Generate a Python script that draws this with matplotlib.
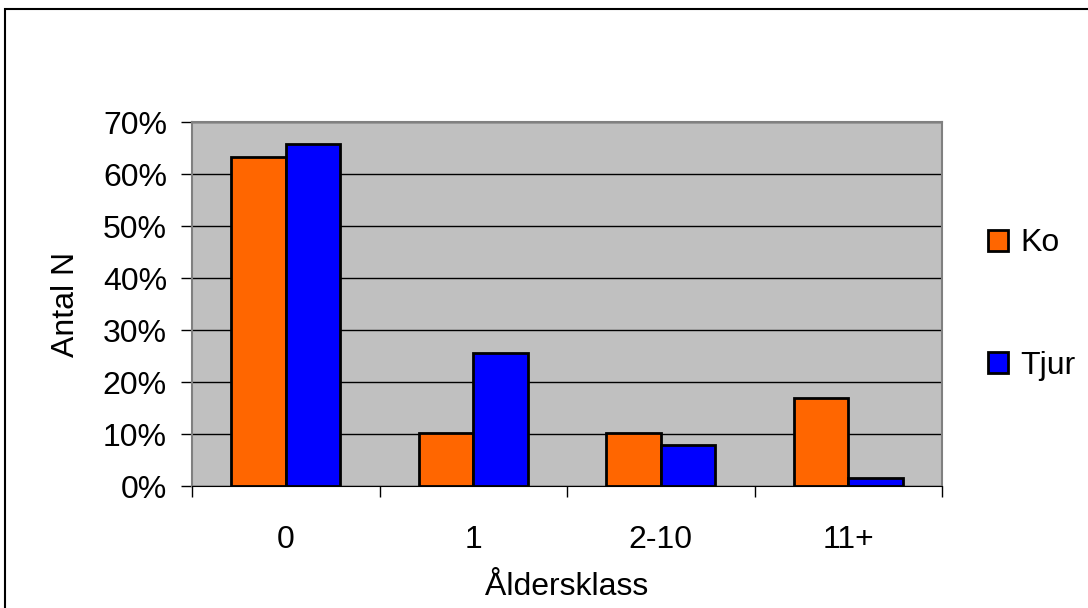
import matplotlib.pyplot as plt
import numpy as np
from matplotlib.patches import Rectangle
from matplotlib.ticker import FixedLocator, PercentFormatter

plt.rcParams['font.family'] = ['Liberation Sans', 'DejaVu Sans']

categories = ['0', '1', '2-10', '11+']
ko = [63.3, 10.2, 10.2, 16.9]
tjur = [65.8, 25.6, 7.9, 1.5]

fs = 23

fig = plt.figure(figsize=(10.88, 6.08), dpi=100)
# outer frame of the chart, cut off at right and bottom
fig.patches.append(Rectangle((5 / 1088, -0.1), 1.2, 1 - 9 / 608 + 0.1,
                             transform=fig.transFigure, fill=False,
                             edgecolor='black', linewidth=1.5))

ax = fig.add_axes([192 / 1088, 1 - 486 / 608, 750 / 1088, 364 / 608])
ax.set_facecolor('#C0C0C0')

x = np.arange(len(categories))
w = 0.29
ax.bar(x - w / 2, ko, w, color='#FF6600', edgecolor='black', linewidth=2, label='Ko', zorder=3)
ax.bar(x + w / 2, tjur, w, color='#0000FF', edgecolor='black', linewidth=2, label='Tjur', zorder=3)

ax.set_xlim(-0.5, len(categories) - 0.5)
ax.set_ylim(0, 70)
ax.set_yticks(np.arange(0, 71, 10))
ax.yaxis.set_major_formatter(PercentFormatter(decimals=0))
ax.grid(axis='y', color='black', linewidth=1, zorder=1)

ax.xaxis.set_major_locator(FixedLocator(np.arange(-0.5, len(categories), 1)))
ax.xaxis.set_minor_locator(FixedLocator(x))
ax.set_xticklabels([])
ax.set_xticklabels(categories, minor=True)
ax.tick_params(axis='x', which='major', length=8, width=1, direction='out')
ax.tick_params(axis='x', which='minor', length=0, pad=28, labelsize=fs)
ax.tick_params(axis='y', length=8, width=1, direction='out', pad=10, labelsize=fs)

for s in ['top', 'right', 'left']:
    ax.spines[s].set_color('#808080')
    ax.spines[s].set_linewidth(1.5)
ax.spines['bottom'].set_color('black')
ax.spines['bottom'].set_zorder(4)

ax.set_xlabel('Åldersklass', fontsize=fs, labelpad=12)
ax.set_ylabel('Antal N', fontsize=fs, labelpad=16)

fig.legend(loc='center left', bbox_to_anchor=(988 / 1088, 0.499), frameon=False,
           fontsize=fs, handlelength=0.63, handleheight=0.63, handletextpad=0.37,
           labelspacing=2.9, borderpad=0, borderaxespad=0)

fig.savefig('out.png', dpi=100)
